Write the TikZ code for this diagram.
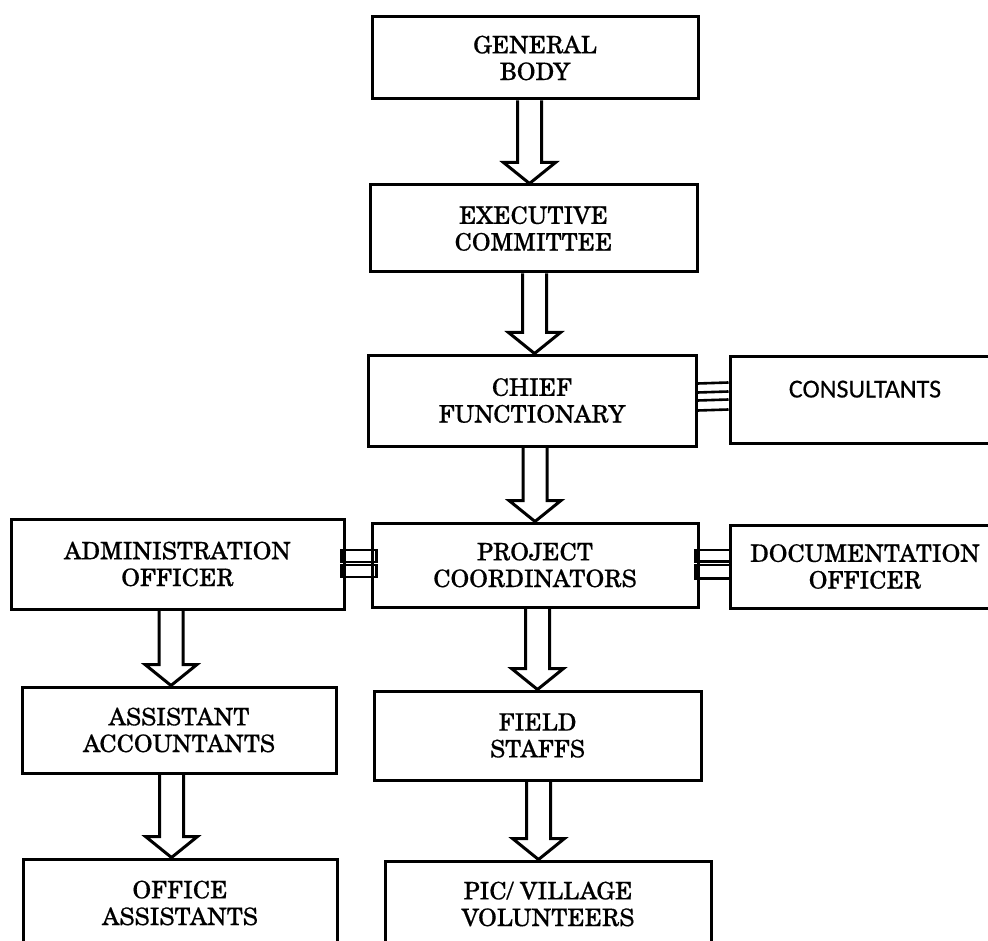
\documentclass[tikz,border=0pt]{standalone}
\usepackage{fontspec}
\newfontfamily\carl[FakeBold=0.3]{Carlito}
\newfontfamily\schola[FakeBold=0.4]{TeX Gyre Schola}
\usetikzlibrary{calc}
\tikzset{
  box/.style={draw, line width=3pt, rectangle, inner sep=0pt, align=center,
    font=\schola\fontsize{24}{26.7}\selectfont},
  sansbox/.style={box, font=\carl\fontsize{26}{28}\selectfont},
  blk/.style={draw, line width=3pt, line join=miter},
  bar/.style={draw, line width=2.6pt}
}
\newcommand\blockarr[3]{%
  \draw[blk] let \p1=($(#1.south)+(#3,0)$), \p2=(#2.north) in
    (\x1-12pt,\y1) -- (\x1-12pt,\y2+21pt) -- (\x1-26pt,\y2+21pt) -- (\x1,\y2)
    -- (\x1+26pt,\y2+21pt) -- (\x1+12pt,\y2+21pt) -- (\x1+12pt,\y1);
}
\begin{document}
\begin{tikzpicture}[x=1pt,y=-1pt]
\clip (0,0) rectangle (988,941);
\fill[white] (0,0) rectangle (988,941);
\node[box, minimum width=326, minimum height=82] (gb) at (535,58) {GENERAL\\BODY};
\node[box, minimum width=327, minimum height=87] (ec) at (533.5,228.5) {EXECUTIVE\\COMMITTEE};
\node[box, minimum width=328, minimum height=91] (cf) at (532,400.5) {CHIEF\\FUNCTIONARY};
\node[sansbox, minimum width=270, minimum height=87] (cons) at (865,399.5) {\smash{\raisebox{2pt}{CONSULTANTS}}};
\node[box, minimum width=333, minimum height=90] (adm) at (177.5,564) {ADMINISTRATION\\OFFICER};
\node[box, minimum width=326, minimum height=84] (pc) at (535,565) {PROJECT\\COORDINATORS};
\node[box, minimum width=270, minimum height=83] (doc) at (865,566.5) {DOCUMENTATION\\OFFICER};
\node[box, minimum width=314, minimum height=86] (aa) at (179,730) {ASSISTANT\\ACCOUNTANTS};
\node[box, minimum width=327, minimum height=89] (fs) at (537.5,735.5) {FIELD\\STAFFS};
\node[box, minimum width=314, minimum height=88] (oa) at (180,903) {OFFICE\\ASSISTANTS};
\node[box, minimum width=326, minimum height=86] (pic) at (548,904) {PIC/ VILLAGE\\VOLUNTEERS};
% block arrows
\blockarr{gb}{ec}{-5.5}
\blockarr{ec}{cf}{1}
\blockarr{cf}{pc}{3}
\blockarr{pc}{fs}{2.5}
\blockarr{fs}{pic}{1}
\blockarr{adm}{aa}{-6.5}
\blockarr{aa}{oa}{-7.5}
% side links
\draw[bar] ($(adm.east)+(-4,-14)$) rectangle ($(pc.west)+(6,-3)$);
\draw[bar] ($(adm.east)+(-4,1)$) rectangle ($(pc.west)+(6,12)$);
\draw[bar] ($(pc.east)+(-4,-15)$) rectangle ($(doc.west)+(2,-5)$);
\draw[bar] ($(pc.east)+(-4,0)$) rectangle ($(doc.west)+(2,12)$);
\draw[bar] ($(cf.east)+(0,-17)$) -- ($(cons.west)+(0,-17)$);
\draw[bar] ($(cf.east)+(0,-8)$) -- ($(cons.west)+(0,-8)$);
\draw[bar] ($(cf.east)+(0,0)$) -- ($(cons.west)+(0,0)$);
\draw[bar] ($(cf.east)+(0,10)$) -- ($(cons.west)+(0,10)$);
\end{tikzpicture}
\end{document}
